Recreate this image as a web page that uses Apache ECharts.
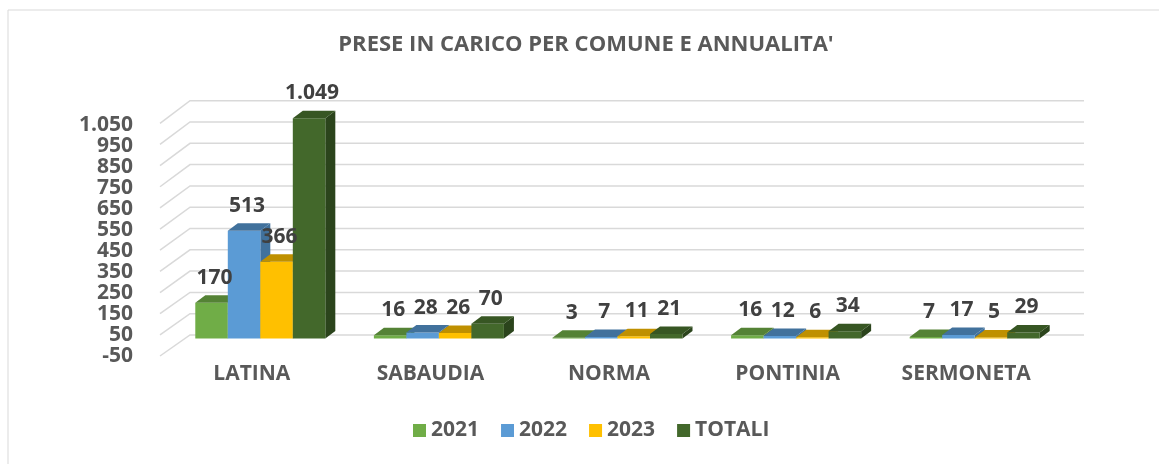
<!DOCTYPE html>
<html>
<head>
<meta charset="utf-8">
<script src="https://cdn.jsdelivr.net/npm/echarts@6/dist/echarts.min.js"></script>
<style>
  html, body { margin: 0; padding: 0; background: #ffffff; }
  #chart { width: 1159px; height: 464px; }
</style>
</head>
<body>
<div id="chart"></div>
<script>
// Prese in carico per comune e annualità
const comuni = ['LATINA', 'SABAUDIA', 'NORMA', 'PONTINIA', 'SERMONETA'];
const valori2021 = [170, 16, 3, 16, 7];
const valori2022 = [513, 28, 7, 12, 17];
const valori2023 = [366, 26, 11, 6, 5];
const valoriTotali = [1049, 70, 21, 34, 29];
const nomiSerie = ['2021', '2022', '2023', 'TOTALI'];
const yMin = -50, yMax = 1050, yStep = 100;

// face colours for the pseudo-3D columns: front, top, right side
const facce = [
  { front: '#70ad47', top: '#548235', side: '#507e32' },
  { front: '#5b9bd5', top: '#41719c', side: '#41719c' },
  { front: '#ffc000', top: '#bf9000', side: '#bf9000' },
  { front: '#43682b', top: '#375623', side: '#2b441c' }
];
const serieValori = [valori2021, valori2022, valori2023, valoriTotali];

const FONT = '"Open Sans", Lato, sans-serif';
const DEPTH_X = 10, DEPTH_Y = 7.5;

// Italian thousands separator
function fmt(n) {
  const s = String(Math.abs(n)).replace(/\B(?=(\d{3})+(?!\d))/g, '.');
  return (n < 0 ? '-' : '') + s;
}

// back wall and left side wall gridlines, one per axis tick
function renderWall(params, api) {
  const cs = params.coordSys;
  const y = api.coord([0, api.value(1)])[1];
  const t = (y - cs.y) / cs.height;
  const yBack = (cs.y - 17.3) + t * (cs.height + 3.3);
  const yFront = (cs.y + 5.3) + t * (cs.height + 1.7);
  return {
    type: 'polyline',
    silent: true,
    shape: {
      points: [
        [cs.x - 11, yFront],
        [cs.x + 19, yBack],
        [cs.x + cs.width + 20, yBack]
      ]
    },
    style: { stroke: '#d9d9d9', lineWidth: 1.5, fill: null }
  };
}

function makeBarRenderer(k) {
  return function (params, api) {
    const cat = api.value(0);
    const v = api.value(1);
    const top = api.coord([cat, v]);
    const base = api.coord([cat, 0]);
    const band = api.size([1, 0])[0];
    const bw = band * 0.182;
    const x0 = top[0] - 2 * bw + k * bw;
    const y1 = top[1];
    const y0 = base[1];
    const f = facce[k];
    return {
      type: 'group',
      children: [
        {
          type: 'polygon',
          shape: { points: [[x0 + bw, y1], [x0 + bw + DEPTH_X, y1 - DEPTH_Y], [x0 + bw + DEPTH_X, y0 - DEPTH_Y], [x0 + bw, y0]] },
          style: { fill: f.side }
        },
        {
          type: 'rect',
          shape: { x: x0, y: y1, width: bw, height: y0 - y1 },
          style: { fill: f.front }
        },
        {
          type: 'polygon',
          shape: { points: [[x0, y1], [x0 + DEPTH_X, y1 - DEPTH_Y], [x0 + bw + DEPTH_X, y1 - DEPTH_Y], [x0 + bw, y1]] },
          style: { fill: f.top }
        },
        {
          type: 'text',
          z2: 100,
          style: {
            text: fmt(v),
            x: x0 + bw / 2 + 3,
            y: y1 - 25,
            align: 'center',
            verticalAlign: 'middle',
            fill: '#404040',
            font: 'bold 21px ' + FONT
          }
        }
      ]
    };
  };
}

const wallData = [];
for (let v = yMin; v <= yMax; v += yStep) wallData.push([0, v]);

const series = [{
  name: 'griglia',
  type: 'custom',
  coordinateSystem: 'cartesian2d',
  renderItem: renderWall,
  data: wallData,
  clip: false,
  silent: true,
  z: 1
}];
nomiSerie.forEach(function (nome, k) {
  series.push({
    name: nome,
    type: 'custom',
    coordinateSystem: 'cartesian2d',
    renderItem: makeBarRenderer(k),
    itemStyle: { color: facce[k].front },
    data: serieValori[k].map(function (v, i) { return [i, v]; }),
    clip: false,
    z: 2
  });
});

const chart = echarts.init(document.getElementById('chart'), null, { renderer: 'canvas' });
chart.setOption({
  animation: false,
  backgroundColor: '#ffffff',
  graphic: [{
    type: 'rect',
    silent: true,
    shape: { x: 8, y: 10, width: 1200, height: 500 },
    style: { fill: null, stroke: '#d9d9d9', lineWidth: 1 }
  }],
  title: {
    text: "PRESE IN CARICO PER COMUNE E ANNUALITA'",
    left: 586,
    top: 34,
    padding: 0,
    textAlign: 'center',
    textStyle: { fontFamily: FONT, fontWeight: 'bold', fontSize: 22, color: '#595959' }
  },
  legend: {
    data: nomiSerie,
    left: 413,
    top: 420,
    padding: 0,
    itemWidth: 13,
    itemHeight: 13,
    itemGap: 22,
    icon: 'rect',
    textStyle: { fontFamily: FONT, fontWeight: 'bold', fontSize: 21, color: '#595959' }
  },
  grid: { left: 171, right: 95, top: 118, bottom: 115, containLabel: false },
  xAxis: {
    type: 'category',
    data: comuni,
    axisLine: { show: false, onZero: false },
    axisTick: { show: false },
    splitLine: { show: false },
    axisLabel: {
      margin: 15,
      padding: [0, 17, 0, 0],
      fontFamily: FONT, fontWeight: 'bold', fontSize: 21, color: '#595959'
    }
  },
  yAxis: {
    type: 'value',
    min: yMin,
    max: yMax,
    interval: yStep,
    axisLine: { show: false },
    axisTick: { show: false },
    splitLine: { show: false },
    axisLabel: {
      margin: 38,
      verticalAlign: 'top',
      lineHeight: 14,
      formatter: fmt,
      fontFamily: FONT, fontWeight: 'bold', fontSize: 21, color: '#595959'
    }
  },
  series: series
});
</script>
</body>
</html>
